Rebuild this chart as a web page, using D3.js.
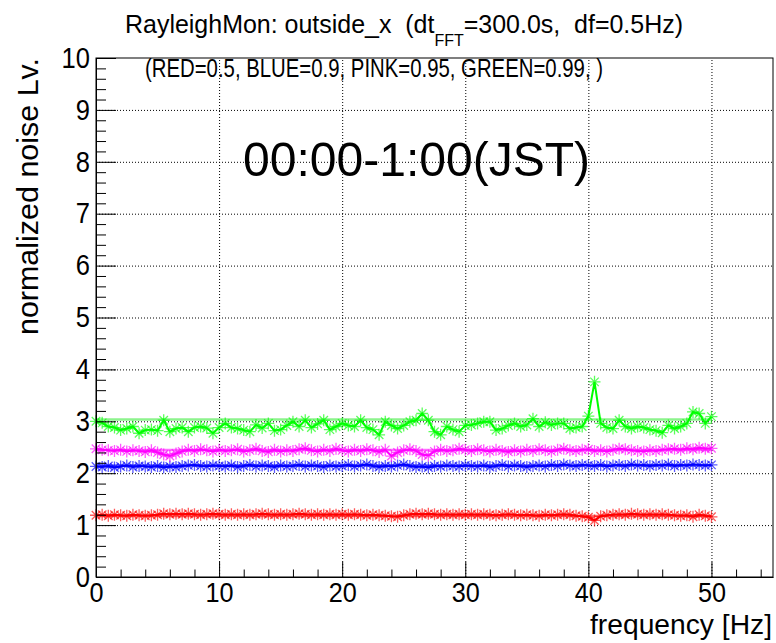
<!DOCTYPE html>
<html>
<head>
<meta charset="utf-8">
<script src="https://cdn.jsdelivr.net/npm/d3@7"></script>
<style>
  html, body { margin: 0; padding: 0; background: #fff; }
  svg { display: block; font-family: "Liberation Sans", Arial, Helvetica, sans-serif; }
  text { white-space: pre; }
</style>
</head>
<body>
<svg id="chart" width="776" height="643"></svg>
<script>
// ---------------- data ----------------
const titleMain = "RayleighMon: outside_x  (dt";
const titleSub = "FFT";
const titleRest = "=300.0s,  df=0.5Hz)";
const subtitle = "(RED=0.5, BLUE=0.9, PINK=0.95, GREEN=0.99, )";
const timeLabel = "00:00-1:00(JST)";
const xLabel = "frequency [Hz]";
const yLabel = "normalized noise Lv.";

const xTicks = [0, 10, 20, 30, 40, 50];
const yTicks = [0, 1, 2, 3, 4, 5, 6, 7, 8, 9, 10];

const freqs = d3.range(0, 50.25, 0.5); // 0.5 Hz bins

const green = [3.00,2.97,2.90,2.88,2.83,2.86,2.90,2.77,2.83,2.84,
               2.82,3.02,2.80,2.86,2.88,2.80,2.88,2.90,2.87,2.77,
               2.88,2.96,2.88,2.86,2.83,2.80,2.93,2.87,2.96,2.82,
               2.84,2.92,2.99,2.90,3.02,2.88,2.95,3.02,2.84,2.90,
               2.96,2.92,2.90,3.02,2.88,2.84,2.74,2.99,2.92,2.86,
               2.92,2.99,3.02,3.15,3.02,2.80,2.74,2.90,2.84,2.80,
               2.92,2.93,2.96,2.99,2.99,2.83,2.86,2.92,2.96,2.90,
               2.93,3.05,2.90,2.98,2.93,2.96,2.96,2.86,2.88,2.90,
               3.10,3.76,2.96,2.88,2.86,3.02,2.90,2.86,2.90,2.88,
               2.84,2.82,2.78,2.92,2.86,2.90,2.96,3.18,3.15,2.96,
               3.09];
const pink  = [2.47,2.45,2.44,2.43,2.45,2.42,2.44,2.43,2.41,2.44,
               2.40,2.36,2.33,2.38,2.42,2.45,2.43,2.46,2.44,2.42,
               2.45,2.43,2.44,2.46,2.42,2.44,2.47,2.43,2.41,2.45,
               2.42,2.44,2.43,2.46,2.48,2.44,2.42,2.45,2.43,2.47,
               2.44,2.42,2.45,2.43,2.46,2.44,2.41,2.45,2.33,2.40,
               2.44,2.46,2.43,2.36,2.34,2.42,2.45,2.43,2.44,2.47,
               2.45,2.43,2.46,2.44,2.42,2.45,2.43,2.41,2.44,2.42,
               2.45,2.43,2.46,2.44,2.42,2.45,2.47,2.44,2.43,2.45,
               2.46,2.43,2.44,2.42,2.45,2.47,2.46,2.44,2.43,2.42,
               2.44,2.43,2.45,2.46,2.47,2.45,2.48,2.46,2.49,2.47,
               2.48];
const blue  = [2.13,2.12,2.14,2.11,2.13,2.15,2.12,2.14,2.13,2.12,
               2.14,2.11,2.13,2.12,2.14,2.15,2.16,2.14,2.13,2.15,
               2.14,2.13,2.15,2.12,2.14,2.16,2.13,2.15,2.14,2.12,
               2.15,2.13,2.14,2.16,2.13,2.15,2.14,2.12,2.15,2.13,
               2.14,2.16,2.13,2.15,2.17,2.14,2.12,2.14,2.13,2.15,
               2.17,2.14,2.12,2.13,2.11,2.14,2.13,2.15,2.14,2.13,
               2.15,2.14,2.13,2.15,2.12,2.14,2.16,2.13,2.15,2.14,
               2.12,2.14,2.15,2.13,2.16,2.14,2.17,2.15,2.14,2.16,
               2.15,2.14,2.16,2.13,2.15,2.16,2.14,2.17,2.15,2.16,
               2.14,2.16,2.15,2.17,2.14,2.16,2.15,2.17,2.16,2.15,
               2.16];
const red   = [1.19,1.20,1.18,1.20,1.19,1.18,1.20,1.19,1.18,1.19,
               1.20,1.22,1.21,1.22,1.21,1.22,1.21,1.20,1.21,1.22,
               1.21,1.20,1.21,1.20,1.21,1.20,1.21,1.22,1.21,1.20,
               1.21,1.20,1.21,1.22,1.21,1.20,1.21,1.20,1.21,1.20,
               1.21,1.20,1.21,1.20,1.19,1.20,1.19,1.18,1.17,1.16,
               1.19,1.21,1.22,1.21,1.22,1.21,1.20,1.21,1.20,1.21,
               1.20,1.21,1.20,1.21,1.20,1.19,1.20,1.21,1.20,1.19,
               1.20,1.19,1.18,1.20,1.19,1.20,1.21,1.20,1.18,1.17,
               1.15,1.09,1.17,1.19,1.20,1.21,1.20,1.22,1.21,1.20,
               1.21,1.20,1.21,1.20,1.19,1.18,1.19,1.16,1.20,1.18,
               1.16];

// Rayleigh expected quantile levels (reference lines)
const refLevels = [1.177, 2.146, 2.448, 3.035];
const seriesNames = ["RED", "BLUE", "PINK", "GREEN"];
const seriesData = [red, blue, pink, green];
const seriesColors = ["#ff0000", "#0000ff", "#ff00ff", "#00ff00"];
const refColors = ["#ff5050", "#5050ff", "#ff50ff", "#70f070"];

// ---------------- layout ----------------
const svg = d3.select("#chart");
const X0 = 96, X1 = 773, Y0 = 577, Y1 = 58;
const x = d3.scaleLinear().domain([0, 55]).range([X0, X1]);
const y = d3.scaleLinear().domain([0, 10]).range([Y0, Y1]);

function squeeze(sel, width) {
  sel.each(function () {
    const L = this.getComputedTextLength();
    const w = (typeof width === "function") ? width(L) : width;
    this.setAttribute("textLength", w);
    this.setAttribute("lengthAdjust", "spacingAndGlyphs");
  });
}

// grid lines (dotted)
const gx = svg.append("g").attr("transform", `translate(0,${Y0})`)
  .call(d3.axisBottom(x).tickValues(xTicks.filter(d => d > 0)).tickSize(-(Y0 - Y1)).tickFormat("").tickSizeOuter(0));
gx.select(".domain").remove();
gx.selectAll("line").attr("stroke", "#000").attr("stroke-width", 1).attr("stroke-dasharray", "1,2");
const gy = svg.append("g").attr("transform", `translate(${X0},0)`)
  .call(d3.axisLeft(y).tickValues(yTicks.filter(d => d > 0 && d < 10)).tickSize(-(X1 - X0)).tickFormat("").tickSizeOuter(0));
gy.select(".domain").remove();
gy.selectAll("line").attr("stroke", "#000").attr("stroke-width", 1).attr("stroke-dasharray", "1,2");

// reference lines
const plot = svg.append("g");
refLevels.forEach((lv, i) => {
  plot.append("path")
    .datum([0, 50])
    .attr("d", d3.line().x(d => x(d)).y(() => y(lv)))
    .attr("stroke", refColors[i]).attr("stroke-width", 2.5).attr("fill", "none").attr("opacity", 0.8);
});

// asterisk marker path
function star(cx, cy, r) {
  const d = r * 0.7071;
  return `M${cx - r},${cy}L${cx + r},${cy}M${cx},${cy - r}L${cx},${cy + r}` +
         `M${cx - d},${cy - d}L${cx + d},${cy + d}M${cx - d},${cy + d}L${cx + d},${cy - d}`;
}

seriesData.forEach((vals, i) => {
  const pts = vals.map((v, k) => [freqs[k], v]);
  const g = plot.append("g");
  g.append("path")
    .datum(pts)
    .attr("d", d3.line().x(d => x(d[0])).y(d => y(d[1])))
    .attr("stroke", seriesColors[i]).attr("stroke-width", 2).attr("fill", "none");
  g.selectAll("path.m").data(pts).join("path")
    .attr("class", "m")
    .attr("d", d => star(x(d[0]), y(d[1]), 6))
    .attr("stroke", seriesColors[i]).attr("stroke-width", 1.3).attr("fill", "none")
    .attr("opacity", 0.65);
});

// frame
svg.append("rect").attr("x", X0).attr("y", Y1).attr("width", X1 - X0).attr("height", Y0 - Y1)
  .attr("fill", "none").attr("stroke", "#000").attr("stroke-width", 1);

// x axis: major + minor ticks (inside)
const xMinor = d3.range(0, 55.01, 2).filter(d => d % 10 !== 0);
const axX = svg.append("g").attr("transform", `translate(0,${Y0})`)
  .call(d3.axisBottom(x).tickValues(xTicks).tickSize(-15).tickPadding(5).tickSizeOuter(0).tickFormat(d3.format("d")));
axX.select(".domain").attr("stroke", "#000");
axX.selectAll("line").attr("stroke", "#000");
axX.selectAll("text").attr("font-size", 28).attr("fill", "#000")
  .attr("font-family", "Liberation Sans, Arial, sans-serif");
squeeze(axX.selectAll("text"), L => L * 0.9);
const axXm = svg.append("g").attr("transform", `translate(0,${Y0})`)
  .call(d3.axisBottom(x).tickValues(xMinor).tickSize(-7.5).tickFormat("").tickSizeOuter(0));
axXm.select(".domain").remove();
axXm.selectAll("line").attr("stroke", "#000");

// y axis: major + minor ticks (inside)
const yMinor = d3.range(0, 10.001, 0.2).filter(d => Math.abs(d - Math.round(d)) > 1e-6);
const axY = svg.append("g").attr("transform", `translate(${X0},0)`)
  .call(d3.axisLeft(y).tickValues(yTicks).tickSize(-20).tickPadding(6).tickSizeOuter(0).tickFormat(d3.format("d")));
axY.select(".domain").attr("stroke", "#000");
axY.selectAll("line").attr("stroke", "#000");
axY.selectAll("text").attr("font-size", 29).attr("fill", "#000")
  .attr("font-family", "Liberation Sans, Arial, sans-serif");
squeeze(axY.selectAll("text"), L => L * 0.88);
const axYm = svg.append("g").attr("transform", `translate(${X0},0)`)
  .call(d3.axisLeft(y).tickValues(yMinor).tickSize(-10).tickFormat("").tickSizeOuter(0));
axYm.select(".domain").remove();
axYm.selectAll("line").attr("stroke", "#000");

// titles
const t = svg.append("text").attr("x", 404).attr("y", 33).attr("text-anchor", "middle")
  .attr("font-size", 25).attr("fill", "#000");
t.append("tspan").text(titleMain);
t.append("tspan").attr("dy", 13).attr("font-size", 16).text(titleSub);
t.append("tspan").attr("dy", -13).text(titleRest);
squeeze(t, 558);

const st = svg.append("text").attr("x", 374).attr("y", 77).attr("text-anchor", "middle")
  .attr("font-size", 26).attr("fill", "#000").text(subtitle);
squeeze(st, 458);

const big = svg.append("text").attr("x", 243).attr("y", 176).attr("text-anchor", "start")
  .attr("font-size", 48).attr("fill", "#000").text(timeLabel);
squeeze(big, 347);

const xt = svg.append("text").attr("x", 772).attr("y", 634).attr("text-anchor", "end")
  .attr("font-size", 28).attr("fill", "#000").text(xLabel);
squeeze(xt, 182);

const yt = svg.append("text").attr("transform", "translate(38,58) rotate(-90)").attr("text-anchor", "end")
  .attr("font-size", 29).attr("fill", "#000").text(yLabel);
squeeze(yt, 277);
</script>
</body>
</html>
